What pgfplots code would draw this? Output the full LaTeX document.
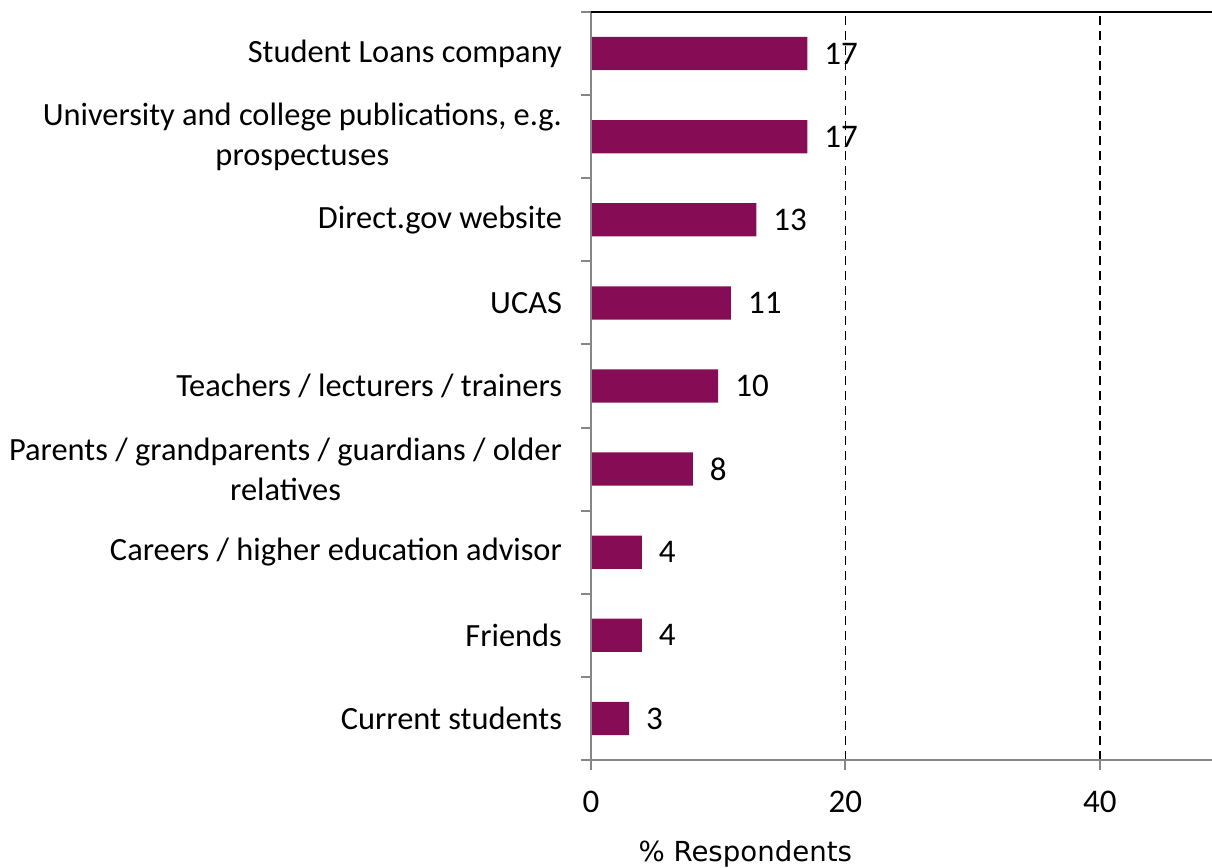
\documentclass[border=0pt]{standalone}
\usepackage{fontspec}
\setmainfont{Carlito}
\newfontfamily\verd{DejaVu Sans}
\usepackage{pgfplots}
\pgfplotsset{compat=1.18}
\definecolor{barpurple}{HTML}{860D55}
\definecolor{axgray}{HTML}{868686}

\begin{document}
\begin{tikzpicture}
\begin{axis}[
    scale only axis,
    width=318.1pt, height=374pt,
    xbar, bar width=0.4,
    xmin=0, xmax=50,
    ymin=-0.5, ymax=8.5,
    axis x line*=bottom,
    axis y line*=left,
    axis line style={draw=none},
    clip=false,
    xtick={0,20,40},
    ytick={-0.5,0.5,...,8.5},
    y tick label as interval,
    yticklabels={
        Current students,
        Friends,
        Careers / higher education advisor,
        {Parents / grandparents / guardians / older\\relatives},
        Teachers / lecturers / trainers,
        UCAS,
        Direct.gov website,
        {University and college publications, e.g.\\prospectuses},
        Student Loans company},
    tick align=outside,
    major tick length=5pt,
    tick style={axgray, line width=1pt},
    xmajorgrids,
    grid style={black, line width=0.9pt, dash pattern=on 4.5pt off 3pt},
    /pgf/number format/assume math mode=true,
    xticklabel style={font=\fontsize{16.5}{20}\selectfont, yshift=-7pt},
    yticklabel style={font=\fontsize{16.2}{20}\selectfont, align=center, xshift=-6pt},
    xlabel={\verd\% Respondents},
    xlabel style={at={(rel axis cs:0.2425,0)}, anchor=base, yshift=-51pt,
        font=\fontsize{13.8}{16}\selectfont},
    nodes near coords,
    nodes near coords style={anchor=west, xshift=5pt, black,
        font=\fontsize{16.5}{20}\selectfont},
]
\addplot[fill=barpurple, draw=none] coordinates {
    (3,0) (4,1) (4,2) (8,3) (10,4) (11,5) (13,6) (17,7) (17,8)
};
\draw[axgray, line width=1.4pt] (rel axis cs:0,0) -- (rel axis cs:1,0);
\draw[axgray, line width=1pt] (rel axis cs:0,0) -- (rel axis cs:0,1);
\draw[black, line width=1pt] (rel axis cs:0,1) -- (rel axis cs:1,1);
\end{axis}
\pgfresetboundingbox
\path ([shift={(-295.5pt,-54pt)}]current axis.south west) rectangle ([shift={(310.5pt,6pt)}]current axis.north west);
\end{tikzpicture}
\end{document}
